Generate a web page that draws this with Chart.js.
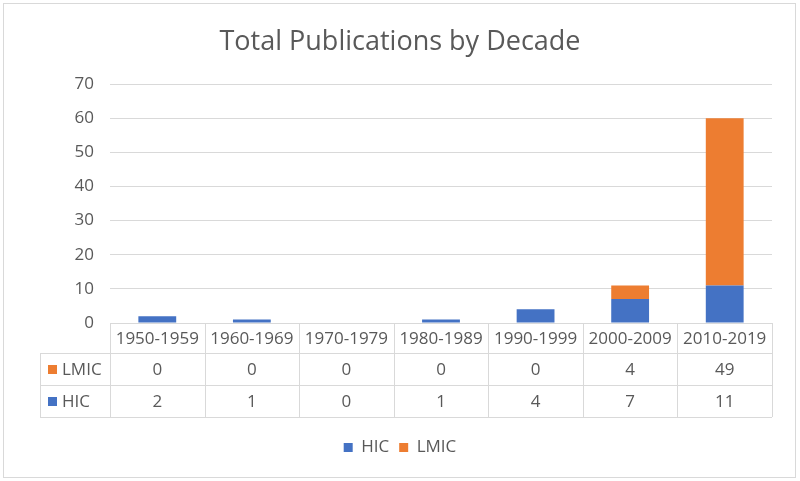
<!DOCTYPE html>
<html>
<head>
<meta charset="utf-8">
<script src="https://cdn.jsdelivr.net/npm/chart.js@4"></script>
<style>
  body { margin: 0; background: #fff; }
  #wrap { width: 800px; height: 481px; }
</style>
</head>
<body>
<div id="wrap"><canvas id="pubChart" width="800" height="481"></canvas></div>
<script>
// Datos del gráfico
const titleText = "Total Publications by Decade";
const decades = ["1950-1959", "1960-1969", "1970-1979", "1980-1989", "1990-1999", "2000-2009", "2010-2019"];
const hicData = [2, 1, 0, 1, 4, 7, 11];
const lmicData = [0, 0, 0, 0, 0, 4, 49];
const yTicks = [0, 10, 20, 30, 40, 50, 60, 70];

const textColor = "#595959";
const lineColor = "#d9d9d9";
const blue = "#4472C4";
const orange = "#ED7D31";

Chart.defaults.font.family = "'Open Sans', sans-serif";
Chart.defaults.color = textColor;

// Borde, título y tabla de datos (estilo Excel)
const dataTable = {
  id: "dataTable",
  beforeDraw(chart) {
    const ctx = chart.ctx;
    ctx.save();
    ctx.strokeStyle = lineColor;
    ctx.lineWidth = 1;
    ctx.strokeRect(3.5, 3.5, 792, 474);
    ctx.font = "27px 'Open Sans', sans-serif";
    ctx.fillStyle = textColor;
    ctx.textAlign = "center";
    ctx.textBaseline = "middle";
    ctx.fillText(titleText, 400, 42);
    ctx.restore();
  },
  afterDraw(chart) {
    const ctx = chart.ctx;
    const x = chart.scales.x;
    const area = chart.chartArea;
    const n = decades.length;
    const colW = (area.right - area.left) / n;
    const top = area.bottom;
    const rows = [top, top + 30, top + 62, top + 94];
    const labelLeft = 40;

    ctx.save();
    ctx.strokeStyle = lineColor;
    ctx.lineWidth = 1;
    ctx.beginPath();
    // lineas horizontales
    ctx.moveTo(area.left, Math.round(rows[0]) + 0.5);
    ctx.lineTo(area.right, Math.round(rows[0]) + 0.5);
    for (let r = 1; r < rows.length; r++) {
      ctx.moveTo(labelLeft, Math.round(rows[r]) + 0.5);
      ctx.lineTo(area.right, Math.round(rows[r]) + 0.5);
    }
    // lineas verticales
    for (let i = 0; i <= n; i++) {
      const px = Math.round(area.left + i * colW) + 0.5;
      ctx.moveTo(px, rows[0]);
      ctx.lineTo(px, rows[3]);
    }
    ctx.moveTo(labelLeft + 0.5, rows[1]);
    ctx.lineTo(labelLeft + 0.5, rows[3]);
    ctx.stroke();

    ctx.font = "17px 'Open Sans', sans-serif";
    ctx.fillStyle = textColor;
    ctx.textAlign = "center";
    ctx.textBaseline = "middle";
    decades.forEach((d, i) => {
      const cx = x.getPixelForValue(i);
      ctx.fillText(d, cx, (rows[0] + rows[1]) / 2 + 1);
      ctx.fillText(String(lmicData[i]), cx, (rows[1] + rows[2]) / 2 + 1);
      ctx.fillText(String(hicData[i]), cx, (rows[2] + rows[3]) / 2 + 1);
    });

    // etiquetas de serie
    const series = [
      { name: "LMIC", color: orange, y: (rows[1] + rows[2]) / 2 },
      { name: "HIC", color: blue, y: (rows[2] + rows[3]) / 2 },
    ];
    ctx.textAlign = "left";
    series.forEach((s) => {
      ctx.fillStyle = s.color;
      ctx.fillRect(48, Math.round(s.y) - 4, 9, 9);
      ctx.fillStyle = textColor;
      ctx.fillText(s.name, 62, s.y + 1);
    });
    ctx.restore();
  },
};

const ctx = document.getElementById("pubChart").getContext("2d");
const pubChart = new Chart(ctx, {
  type: "bar",
  data: {
    labels: decades,
    datasets: [
      {
        label: "HIC",
        data: hicData,
        backgroundColor: blue,
        categoryPercentage: 0.4,
        barPercentage: 1,
      },
      {
        label: "LMIC",
        data: lmicData,
        backgroundColor: orange,
        categoryPercentage: 0.4,
        barPercentage: 1,
      },
    ],
  },
  options: {
    responsive: false,
    animation: false,
    layout: { padding: { left: 0, right: 0, top: 84, bottom: 15 } },
    scales: {
      x: {
        stacked: true,
        grid: { display: false },
        border: { display: false },
        ticks: { display: false },
        afterFit: (scale) => { scale.height = 106; },
      },
      y: {
        stacked: true,
        min: 0,
        max: 70,
        afterBuildTicks: (scale) => { scale.ticks = yTicks.map((v) => ({ value: v })); },
        grid: { color: lineColor, drawTicks: false },
        border: { display: false },
        ticks: { padding: 16, font: { size: 17 }, color: textColor },
        afterFit: (scale) => { scale.width = 110; },
      },
      // eje vacío para dejar margen a la derecha
      yRight: {
        position: "right",
        grid: { display: false },
        border: { display: false },
        ticks: { display: false },
        afterFit: (scale) => { scale.width = 28; },
      },
    },
    plugins: {
      title: { display: false },
      legend: {
        position: "bottom",
        labels: {
          boxWidth: 9,
          boxHeight: 9,
          color: textColor,
          font: { size: 17 },
          padding: 10,
        },
      },
      tooltip: { enabled: false },
    },
  },
  plugins: [dataTable],
});
</script>
</body>
</html>
